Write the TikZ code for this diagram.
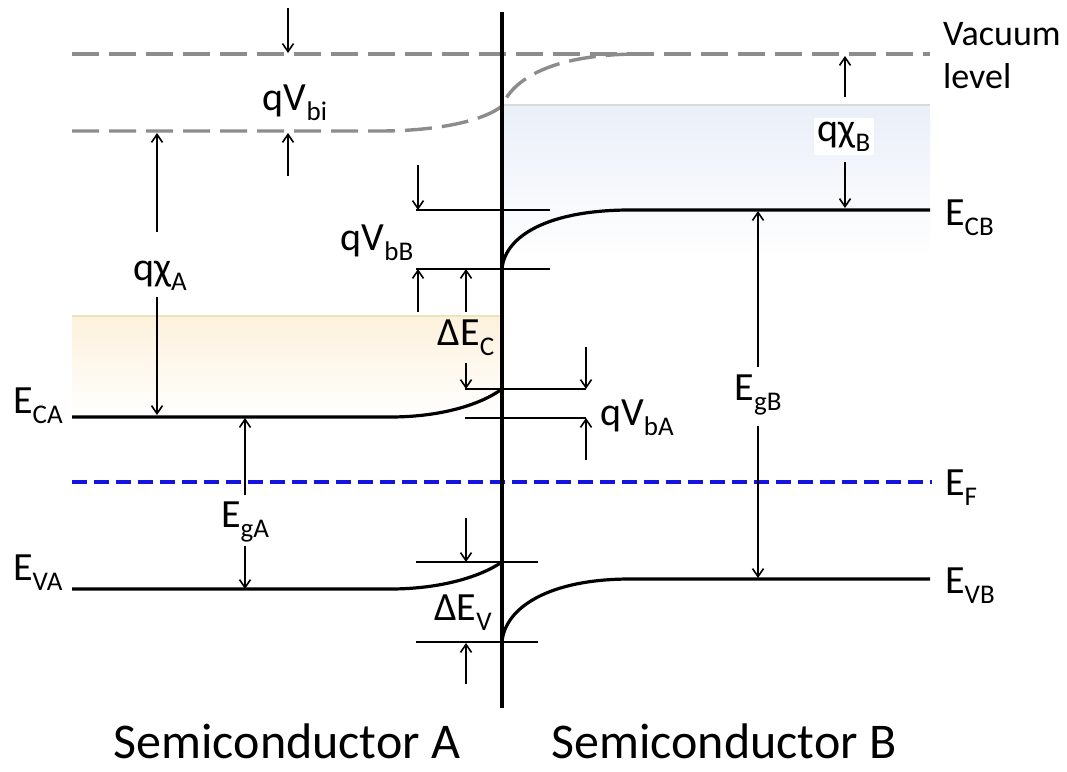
\documentclass[tikz,border=0pt]{standalone}
\usepackage{fontspec}
\setmainfont{Carlito}
\usetikzlibrary{arrows.meta}
\definecolor{vacgray}{HTML}{8C8C8C}
\definecolor{fermi}{HTML}{1414E0}
\definecolor{shadeB}{HTML}{EAEFF8}
\definecolor{shadeA}{HTML}{FDF1DC}
\newcommand{\lo}[1]{\raisebox{-0.25em}{\fontsize{27}{27}\selectfont #1}}

\begin{document}
\begin{tikzpicture}[x=1pt, y=-1pt,
  band/.style={line width=3.2pt},
  vac/.style={line width=3.4pt, vacgray, dash pattern=on 27pt off 10pt},
  tick/.style={line width=1.6pt},
  dim/.style={line width=1.6pt, -{Straight Barb[length=8pt,width=11pt]}},
  lbl/.style={inner sep=0pt, font=\fontsize{40}{43}\selectfont},
  big/.style={inner sep=0pt, text depth=0pt, font=\fontsize{50}{55}\selectfont}
]
\useasboundingbox (0,0) rectangle (1067,771);

% shaded regions above the conduction bands
\shade[top color=shadeB, bottom color=white] (502,105) rectangle (930,258);
\draw[line width=1.2pt, black!15] (502,105) -- (930,105);
\shade[top color=shadeA, bottom color=white] (72,316) rectangle (502,417);
\draw[line width=1.2pt, olive!20] (72,316) -- (502,316);

% vacuum level
\draw[vac] (72,54) -- (930,54);
\draw[vac] (72,131) -- (380,131) .. controls (440,131) and (485,120) .. (502,106)
  .. controls (515,75) and (560,54) .. (640,54);

% bands
\draw[band] (72,417) -- (390,417) .. controls (440,417) and (480,405) .. (502,389);
\draw[band] (72,589) -- (390,589) .. controls (440,589) and (480,577) .. (502,562);
\draw[band] (502,269) .. controls (505,235) and (550,210) .. (630,210) -- (930,210);
\draw[band] (502,642) .. controls (505,607) and (550,579) .. (630,579) -- (930,579);
\draw[line width=3.2pt, fermi, dash pattern=on 15pt off 7pt] (72,482) -- (932,482);
\draw[line width=3.2pt] (502,12) -- (502,708);

% reference ticks at the interface
\foreach \y/\xa/\xb in {210/416/550, 269/416/550, 389/465/586, 418/465/586, 562/416/538, 642/416/538}
  \draw[tick] (\xa,\y) -- (\xb,\y);

% labels
\node[lbl, anchor=base west] (ECA) at (13,413) {E\lo{CA}};
\node[lbl, anchor=base west] (EVA) at (13,580) {E\lo{VA}};
\node[lbl, anchor=base west] (ECB) at (945,225) {E\lo{CB}};
\node[lbl, anchor=base west] (EF) at (945,495) {E\lo{F}};
\node[lbl, anchor=base west] (EVB) at (945,593) {E\lo{VB}};
\node[lbl, anchor=base west, font=\fontsize{36}{40}\selectfont] (vac1) at (943,45) {Vacuum};
\node[lbl, anchor=base west, font=\fontsize{36}{40}\selectfont] (vac2) at (943,88) {level};
\node[lbl, anchor=base] (Vbi) at (295,110) {qV\lo{bi}};
\node[lbl, anchor=base] (chiA) at (160,280) {qχ\lo{A}};
\node[lbl, anchor=base, fill=white, inner sep=4pt] (chiB) at (844,141) {qχ\lo{B}};
\node[lbl, anchor=base] (VbB) at (377,250) {qV\lo{bB}};
\node[lbl, anchor=base] (dEC) at (466,345) {ΔE\lo{C}};
\node[lbl, anchor=base west] (VbA) at (600,425) {qV\lo{bA}};
\node[lbl, anchor=base] (EgA) at (245,527) {E\lo{gA}};
\node[lbl, anchor=base] (EgB) at (758,400) {E\lo{gB}};
\node[lbl, anchor=base] (dEV) at (463,620) {ΔE\lo{V}};
\node[big, anchor=base] (semA) at (287,758) {Semiconductor A};
\node[big, anchor=base] (semB) at (724,758) {Semiconductor B};

% dimension arrows
\foreach \n/\x/\y in {bi1/288/8, bi1h/288/53, bi2/288/176, bi2h/288/133,
    xA1/157/232, xA1h/157/133, xA2/157/297, xA2h/157/415,
    xB1/845/97, xB1h/845/56, xB2/845/162, xB2h/845/208,
    bB1/418/165, bB1h/418/210, bB2/418/312, bB2h/418/269,
    dC1/466/312, dC1h/466/269, dC2/466/363, dC2h/466/389,
    bA1/586/347, bA1h/586/389, bA2/586/460, bA2h/586/418,
    gA1/245/495, gA1h/245/418, gA2/245/546, gA2h/245/589,
    gB1/758/367, gB1h/758/211, gB2/758/426, gB2h/758/578,
    dV1/466/518, dV1h/466/562, dV2/466/684, dV2h/466/643}
  \coordinate (\n) at (\x,\y);
\foreach \a in {bi1, bi2, xA1, xA2, xB1, xB2, bB1, bB2, dC1, dC2, bA1, bA2, gA1, gA2, gB1, gB2, dV1, dV2}
  \draw[dim] (\a) -- (\a h);
\end{tikzpicture}
\end{document}
